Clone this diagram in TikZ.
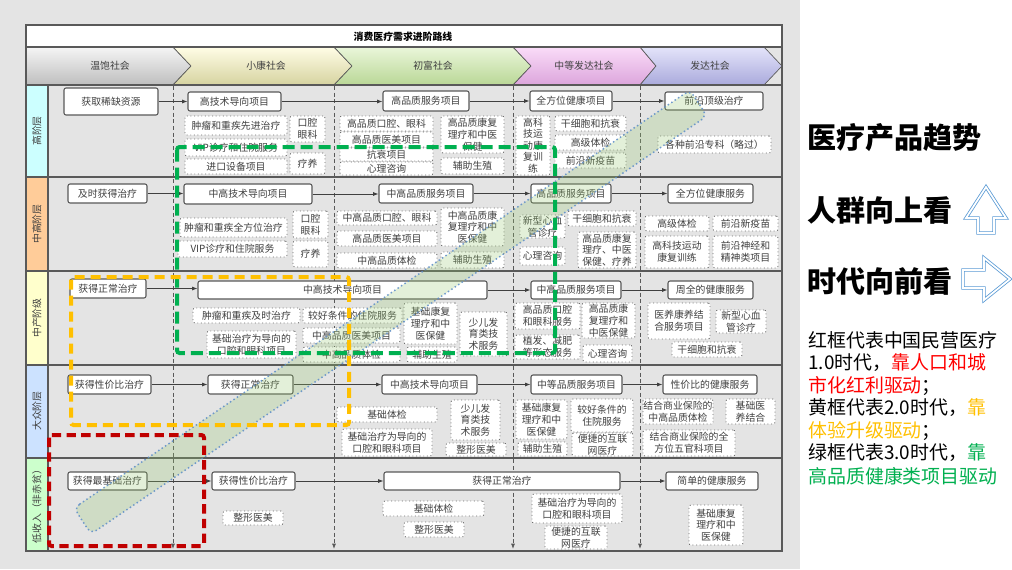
\documentclass[tikz,border=0pt]{standalone}
\usepackage{fontspec}
\setmainfont{Noto Sans CJK SC}
\usetikzlibrary{arrows.meta}
\definecolor{bgc}{RGB}{228,228,228}
\definecolor{linec}{RGB}{89,89,89}
\definecolor{txtc}{RGB}{64,64,64}
\definecolor{dotc}{RGB}{110,110,110}
\definecolor{redc}{RGB}{192,0,0}
\definecolor{yelc}{RGB}{255,192,0}
\definecolor{grnc}{RGB}{0,176,80}
\definecolor{redt}{RGB}{255,0,0}
\definecolor{bandf}{RGB}{150,200,110}
\definecolor{bandl}{RGB}{91,140,200}
\definecolor{arrc}{RGB}{91,155,213}
\newcommand{\fs}{\fontsize{7.4}{8.8}\selectfont}
\newcommand{\mkbox}[7]{%
  \pgfmathsetmacro{\mbcx}{(#3+#5)/2}%
  \pgfmathsetmacro{\mbcy}{(#4+#6)/2}%
  \pgfmathsetmacro{\mbw}{(#5-#3)*0.75}%
  \pgfmathsetmacro{\mbh}{(#6-#4)*0.75}%
  \node[#1, minimum width=\mbw pt, minimum height=\mbh pt] (#2) at (\mbcx,\mbcy) {#7};%
}
\begin{document}
\begin{tikzpicture}[x=0.75pt,y=-0.75pt,
  mainbox/.style={draw=linec, fill=white, rounded corners=1.5pt, line width=0.8pt, font=\fs, text=txtc, inner sep=0pt, align=center},
  subbox/.style={draw=dotc, dotted, fill=white, rounded corners=1.5pt, line width=0.7pt, font=\fs, text=txtc, inner sep=0pt, align=center},
  conn/.style={-{Latex[length=4pt,width=3pt]}, draw=txtc, line width=0.6pt},
  vdash/.style={draw=linec, dash pattern=on 3pt off 2pt, line width=0.6pt, -{Latex[length=4pt,width=3pt]}},
  frame/.style={draw=linec, line width=1.1pt},
  chev/.style={draw=linec, line width=0.5pt},
  lbl/.style={font=\fs, text=txtc},
  band/.style={fill=bandf, fill opacity=0.26, draw=bandl, draw opacity=0.85, line width=1.1pt, dotted, rounded corners=5pt},
  era/.style={line width=3pt, rounded corners=2pt},
  arrowsh/.style={draw=arrc, double=white, double distance=1.3pt, line width=0.6pt, line join=miter},
  big/.style={font=\fontsize{21.8}{24}\selectfont\bfseries, anchor=west, inner sep=0pt},
  para/.style={font=\fontsize{14.2}{17}\selectfont, anchor=west, inner sep=0pt}
]
\useasboundingbox (0,0) rectangle (1012,569);
\fill[bgc] (0,0) rectangle (800,569);
\fill[white] (800,0) rectangle (1012,569);

% title row
\fill[white] (26,25) rectangle (782,47);
\node[font=\fontsize{7.4}{9}\selectfont\bfseries, text=black] (title) at (403,37) {消费医疗需求进阶路线};

% chevrons
\path[chev, top color={rgb,255:red,245;green,245;blue,245}, bottom color={rgb,255:red,190;green,190;blue,190}]
  (26,47) -- (173,47) -- (191,66) -- (173,85) -- (26,85) -- cycle;
\path[chev, top color={rgb,255:red,255;green,253;blue,230}, bottom color={rgb,255:red,214;green,211;blue,160}]
  (173,47) -- (334,47) -- (352,66) -- (334,85) -- (173,85) -- (191,66) -- cycle;
\path[chev, top color={rgb,255:red,234;green,246;blue,218}, bottom color={rgb,255:red,185;green,215;blue,150}]
  (334,47) -- (513,47) -- (531,66) -- (513,85) -- (334,85) -- (352,66) -- cycle;
\path[chev, top color={rgb,255:red,250;green,220;blue,248}, bottom color={rgb,255:red,220;green,165;blue,220}]
  (513,47) -- (640,47) -- (656,66) -- (640,85) -- (513,85) -- (531,66) -- cycle;
\path[chev, top color={rgb,255:red,228;green,228;blue,250}, bottom color={rgb,255:red,170;green,170;blue,220}]
  (640,47) -- (764,47) -- (782,66) -- (764,85) -- (640,85) -- (656,66) -- cycle;
\node[lbl] (e1) at (110,66) {温饱社会};
\node[lbl] (e2) at (266,66) {小康社会};
\node[lbl] (e3) at (433,66) {初富社会};
\node[lbl] (e4) at (584,66) {中等发达社会};
\node[lbl] (e5) at (710,66) {发达社会};

% row label column
\fill[fill={rgb,255:red,204;green,255;blue,255}] (26,85) rectangle (48,177);
\fill[fill={rgb,255:red,255;green,204;blue,153}] (26,177) rectangle (48,271);
\fill[fill={rgb,255:red,255;green,255;blue,204}] (26,271) rectangle (48,365);
\fill[fill={rgb,255:red,204;green,226;blue,255}] (26,365) rectangle (48,458);
\fill[fill={rgb,255:red,204;green,255;blue,204}] (26,458) rectangle (48,551);
\node[lbl, rotate=90] (l1) at (37,131) {高阶层};
\node[lbl, rotate=90] (l2) at (37,224) {中高阶层};
\node[lbl, rotate=90] (l3) at (37,318) {中产阶级};
\node[lbl, rotate=90] (l4) at (37,411) {大众阶层};
\node[lbl, rotate=90] (l5) at (37,504) {低收入（非赤贫）};

% grid lines
\draw[frame] (26,47) -- (782,47);
\draw[frame] (26,85) -- (782,85);
\draw[frame] (26,177) -- (782,177);
\draw[frame] (26,271) -- (782,271);
\draw[frame] (26,365) -- (782,365);
\draw[frame] (26,458) -- (782,458);
\draw[frame] (48,85) -- (48,551);
\draw[frame] (26,25) rectangle (782,551);

% vertical dashed era lines
\foreach \xx/\nn in {173/a,334/b,513/c,640/d}{
  \coordinate (vt\nn) at (\xx,86);
  \coordinate (vb\nn) at (\xx,549);
  \draw[vdash] (vt\nn) -- (vb\nn);
}

% ===== Row 1 =====
\mkbox{mainbox}{r1a}{64}{88}{158}{115}{获取稀缺资源}
\mkbox{mainbox}{r1b}{188}{92}{281}{111}{高技术导向项目}
\mkbox{mainbox}{r1c}{383}{91}{469}{111}{高品质服务项目}
\mkbox{mainbox}{r1d}{530}{91}{612}{111}{全方位健康项目}
\mkbox{mainbox}{r1e}{665}{92}{763}{110}{前沿顶级治疗}
\mkbox{subbox}{r1s1}{185}{116}{287}{135}{肿瘤和重疾先进治疗}
\mkbox{subbox}{r1s2}{290}{116}{325}{142}{口腔\\眼科}
\mkbox{subbox}{r1s3}{185}{139}{287}{156}{VIP诊疗和住院服务}
\mkbox{subbox}{r1s4}{290}{153}{325}{174}{疗养}
\mkbox{subbox}{r1s5}{185}{159}{287}{174}{进口设备项目}
\mkbox{subbox}{r1s6}{340}{116}{433}{131}{高品质口腔、眼科}
\mkbox{subbox}{r1s7}{340}{132}{433}{147}{高品质医美项目}
\mkbox{subbox}{r1s8}{340}{148}{433}{161}{抗衰项目}
\mkbox{subbox}{r1s9}{340}{162}{433}{175}{心理咨询}
\mkbox{subbox}{r1s10}{441}{116}{504}{153}{高品质康复\\理疗和中医\\保健}
\mkbox{subbox}{r1s11}{441}{158}{504}{174}{辅助生殖}
\mkbox{subbox, font=\fontsize{7.4}{8.6}\selectfont}{r1s12}{516}{116}{550}{175}{高科\\技运\\动康\\复训\\练}
\mkbox{subbox}{r1s13}{555}{116}{626}{131}{干细胞和抗衰}
\mkbox{subbox}{r1s14}{555}{135}{626}{150}{高级体检}
\mkbox{subbox}{r1s15}{555}{153}{626}{168}{前沿新疫苗}
\mkbox{subbox}{r1s16}{658}{136}{771}{153}{各种前沿专科（略过）}
\draw[conn] (r1a.east) -- (r1a.east -| r1b.west);
\draw[conn] (r1b.east) -- (r1b.east -| r1c.west);
\draw[conn] (r1c.east) -- (r1c.east -| r1d.west);
\draw[conn] (r1d.east) -- (r1d.east -| r1e.west);

% ===== Row 2 =====
\mkbox{mainbox}{r2a}{68}{184}{147}{203}{及时获得治疗}
\mkbox{mainbox}{r2b}{184}{184}{312}{204}{中高技术导向项目}
\mkbox{mainbox}{r2c}{379}{184}{473}{203}{中高品质服务项目}
\mkbox{mainbox}{r2d}{531}{184}{611}{203}{高品质服务项目}
\mkbox{mainbox}{r2e}{668}{184}{753}{203}{全方位健康服务}
\mkbox{subbox}{r2s1}{180}{218}{287}{237}{肿瘤和重疾全方位治疗}
\mkbox{subbox}{r2s2}{293}{211}{328}{238}{口腔\\眼科}
\mkbox{subbox}{r2s3}{178}{241}{287}{257}{VIP诊疗和住院服务}
\mkbox{subbox}{r2s4}{293}{241}{328}{267}{疗养}
\mkbox{subbox}{r2s5}{337}{211}{437}{225}{中高品质口腔、眼科}
\mkbox{subbox}{r2s6}{337}{231}{437}{246}{高品质医美项目}
\mkbox{subbox}{r2s7}{337}{253}{437}{268}{中高品质体检}
\mkbox{subbox}{r2s8}{441}{208}{504}{246}{中高品质康\\复理疗和中\\医保健}
\mkbox{subbox}{r2s9}{441}{252}{504}{268}{辅助生殖}
\mkbox{subbox}{r2s10}{520}{215}{565}{238}{新型心血\\管诊疗}
\mkbox{subbox}{r2s11}{520}{247}{565}{265}{心理咨询}
\mkbox{subbox}{r2s12}{568}{211}{636}{226}{干细胞和抗衰}
\mkbox{subbox}{r2s13}{578}{232}{636}{268}{高品质康复\\理疗、中医\\保健、疗养}
\mkbox{subbox}{r2s14}{645}{216}{709}{231}{高级体检}
\mkbox{subbox}{r2s15}{713}{216}{778}{231}{前沿新疫苗}
\mkbox{subbox}{r2s16}{645}{236}{709}{268}{高科技运动\\康复训练}
\mkbox{subbox}{r2s17}{713}{236}{778}{268}{前沿神经和\\精神类项目}
\draw[conn] (r2a.east) -- (r2a.east -| r2b.west);
\draw[conn] (r2b.east) -- (r2b.east -| r2c.west);
\draw[conn] (r2c.east) -- (r2c.east -| r2d.west);
\draw[conn] (r2d.east) -- (r2d.east -| r2e.west);

% ===== Row 3 =====
\mkbox{mainbox}{r3a}{70}{279}{146}{298}{获得正常治疗}
\mkbox{mainbox}{r3b}{198}{281}{487}{299}{中高技术导向项目}
\mkbox{mainbox}{r3c}{531}{281}{621}{299}{中高品质服务项目}
\mkbox{mainbox}{r3d}{668}{281}{753}{299}{周全的健康服务}
\mkbox{subbox}{r3s1}{193}{308}{300}{323}{肿瘤和重疾及时治疗}
\mkbox{subbox}{r3s2}{303}{308}{402}{323}{较好条件的住院服务}
\mkbox{subbox}{r3s3}{207}{331}{296}{358}{基础治疗为导向的\\口腔和眼科项目}
\mkbox{subbox}{r3s4}{303}{328}{400}{343}{中高品质医美项目}
\mkbox{subbox}{r3s5}{303}{347}{400}{362}{中高品质体检}
\mkbox{subbox}{r3s6}{404}{303}{457}{344}{基础康复\\理疗和中\\医保健}
\mkbox{subbox}{r3s7}{407}{347}{457}{362}{辅助生殖}
\mkbox{subbox}{r3s8}{460}{312}{507}{356}{少儿发\\育类技\\术服务}
\mkbox{subbox}{r3s9}{515}{303}{580}{329}{高品质口腔\\和眼科服务}
\mkbox{subbox}{r3s10}{515}{335}{580}{359}{植发、减肥\\等形态服务}
\mkbox{subbox}{r3s11}{582}{303}{635}{338}{高品质康\\复理疗和\\中医保健}
\mkbox{subbox}{r3s12}{583}{345}{632}{362}{心理咨询}
\mkbox{subbox}{r3s13}{648}{303}{710}{339}{医养康养结\\合服务项目}
\mkbox{subbox}{r3s14}{716}{310}{766}{333}{新型心血\\管诊疗}
\mkbox{subbox}{r3s15}{672}{342}{742}{357}{干细胞和抗衰}
\draw[conn] (r3a.east) -- (r3a.east -| r3b.west);
\draw[conn] (r3b.east) -- (r3b.east -| r3c.west);
\draw[conn] (r3c.east) -- (r3c.east -| r3d.west);

% ===== Row 4 =====
\mkbox{mainbox}{r4a}{68}{375}{151}{394}{获得性价比治疗}
\mkbox{mainbox}{r4b}{208}{375}{293}{394}{获得正常治疗}
\mkbox{mainbox}{r4c}{382}{375}{477}{394}{中高技术导向项目}
\mkbox{mainbox}{r4d}{531}{375}{622}{394}{中等品质服务项目}
\mkbox{mainbox}{r4e}{663}{375}{757}{394}{性价比的健康服务}
\mkbox{subbox}{r4s1}{337}{407}{437}{422}{基础体检}
\mkbox{subbox}{r4s2}{342}{429}{432}{456}{基础治疗为导向的\\口腔和眼科项目}
\mkbox{subbox}{r4s3}{451}{400}{500}{440}{少儿发\\育类技\\术服务}
\mkbox{subbox}{r4s4}{446}{443}{506}{456}{整形医美}
\mkbox{subbox}{r4s5}{516}{400}{567}{439}{基础康复\\理疗和中\\医保健}
\mkbox{subbox}{r4s6}{518}{442}{567}{456}{辅助生殖}
\mkbox{subbox}{r4s7}{571}{399}{633}{432}{较好条件的\\住院服务}
\mkbox{subbox}{r4s8}{572}{433}{633}{456}{便捷的互联\\网医疗}
\mkbox{subbox}{r4s9}{643}{399}{713}{424}{结合商业保险的\\中高品质体检}
\mkbox{subbox}{r4s10}{726}{399}{775}{424}{基础医\\养结合}
\mkbox{subbox}{r4s11}{643}{430}{735}{456}{结合商业保险的全\\方位五官科项目}
\draw[conn] (r4a.east) -- (r4a.east -| r4b.west);
\draw[conn] (r4b.east) -- (r4b.east -| r4c.west);
\draw[conn] (r4c.east) -- (r4c.east -| r4d.west);
\draw[conn] (r4d.east) -- (r4d.east -| r4e.west);

% ===== Row 5 =====
\mkbox{mainbox}{r5a}{68}{472}{147}{490}{获得最基础治疗}
\mkbox{mainbox}{r5b}{212}{472}{295}{490}{获得性价比治疗}
\mkbox{mainbox}{r5c}{384}{472}{620}{490}{获得正常治疗}
\mkbox{mainbox}{r5d}{666}{472}{758}{490}{简单的健康服务}
\mkbox{subbox}{r5s1}{223}{511}{283}{525}{整形医美}
\mkbox{subbox}{r5s2}{383}{501}{484}{516}{基础体检}
\mkbox{subbox}{r5s3}{404}{522}{464}{537}{整形医美}
\mkbox{subbox}{r5s4}{532}{494}{622}{523}{基础治疗为导向的\\口腔和眼科项目}
\mkbox{subbox}{r5s5}{545}{526}{607}{549}{便捷的互联\\网医疗}
\mkbox{subbox}{r5s6}{689}{505}{743}{545}{基础康复\\理疗和中\\医保健}
\draw[conn] (r5a.east) -- (r5a.east -| r5b.west);
\draw[conn] (r5b.east) -- (r5b.east -| r5c.west);
\draw[conn] (r5c.east) -- (r5c.east -| r5d.west);

% ===== diagonal band =====
\draw[band] (74,508) -- (690,90) -- (707,116) -- (91,534) -- cycle;

% ===== era frames =====
\draw[era, draw=grnc, dash pattern=on 9pt off 4.5pt] (177,147) rectangle (555,353);
\draw[era, draw=yelc, dash pattern=on 7.5pt off 4.5pt] (71,277) rectangle (349,425);
\draw[era, draw=redc, dash pattern=on 7pt off 4pt] (49,435) rectangle (204,546);

% ===== right panel =====
\node[big] (h1) at (807,138) {医疗产品趋势};
\node[big] (h2) at (807,210) {人群向上看};
\node[big] (h3) at (807,281) {时代向前看};
\draw[arrowsh] (986,187) -- (1006,218) -- (994,218) -- (994,233) -- (978,233) -- (978,218) -- (966,218) -- cycle;
\draw[arrowsh] (1010,279) -- (984,258) -- (984,270) -- (963,270) -- (963,288) -- (984,288) -- (984,300) -- cycle;
\node[para] (p1) at (808,340) {红框代表中国民营医疗};
\node[para] (p2) at (808,363) {1.0时代，\textcolor{redt}{靠人口和城}};
\node[para] (p3) at (808,386) {\textcolor{redt}{市化红利驱动}；};
\node[para] (p4) at (808,408) {黄框代表2.0时代，\textcolor{yelc}{靠}};
\node[para] (p5) at (808,431) {\textcolor{yelc}{体验升级驱动}；};
\node[para] (p6) at (808,453) {绿框代表3.0时代，\textcolor{grnc}{靠}};
\node[para] (p7) at (808,476) {\textcolor{grnc}{高品质健康类项目驱动}};
\end{tikzpicture}
\end{document}
